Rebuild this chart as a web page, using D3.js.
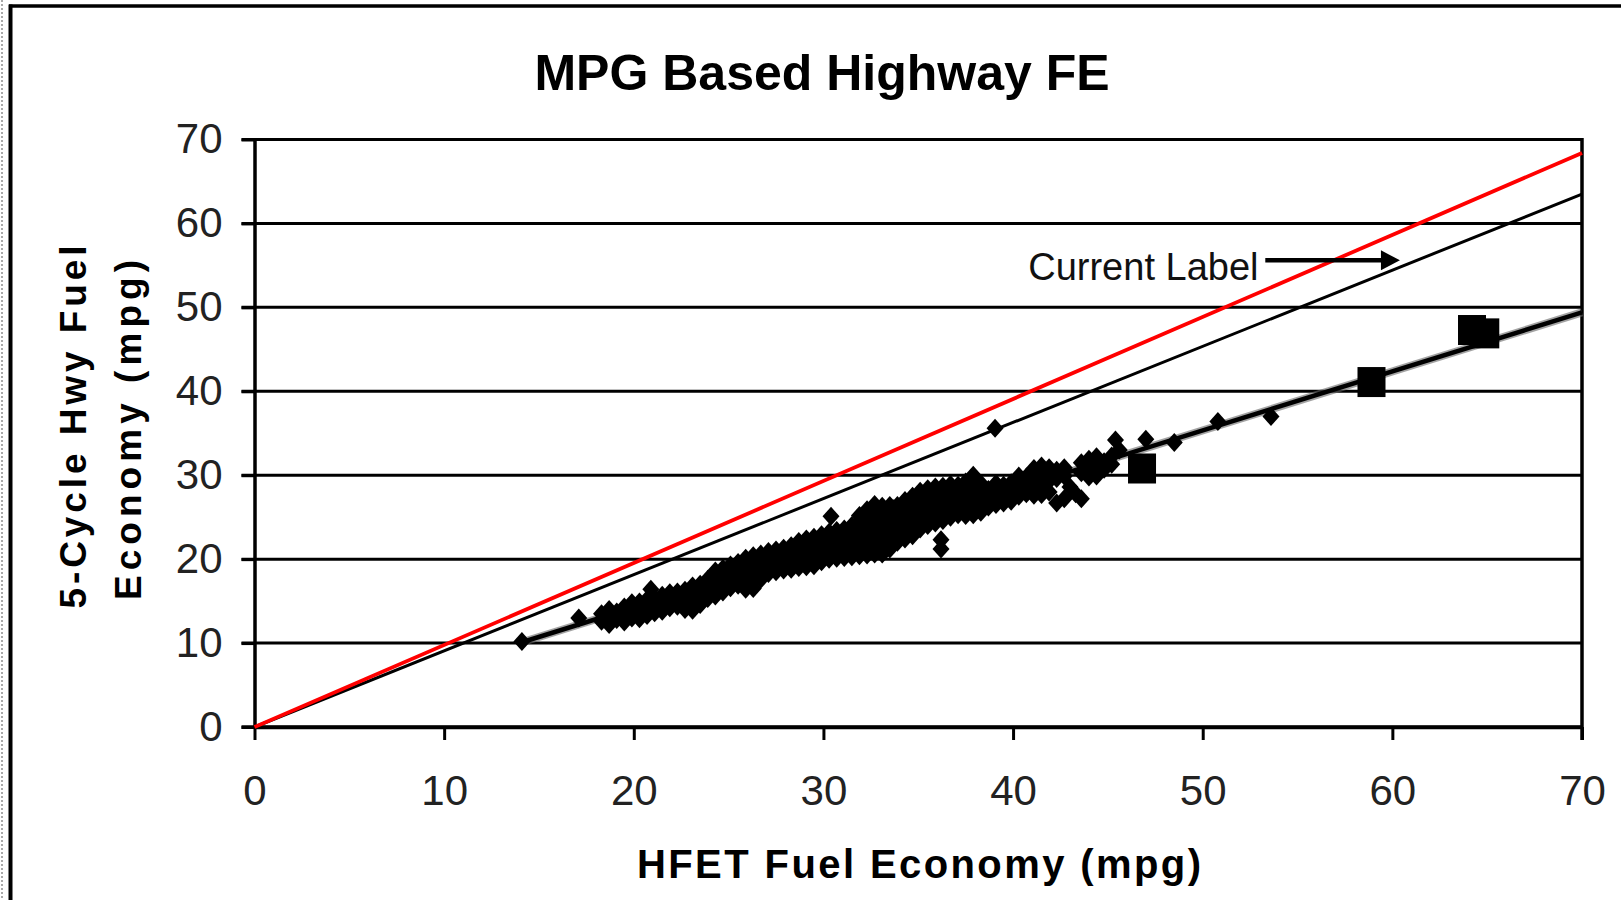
<!DOCTYPE html>
<html>
<head>
<meta charset="utf-8">
<script src="https://cdn.jsdelivr.net/npm/d3@7"></script>
<style>
  html, body { margin: 0; padding: 0; background: #fff; }
  svg { display: block; }
  text { font-family: "Liberation Sans", Arial, sans-serif; }
</style>
</head>
<body>
<svg id="chart" width="1621" height="900"></svg>
<script>
// ---------------- data ----------------
const chartTitle = "MPG Based Highway FE";
const xTitle = "HFET Fuel Economy (mpg)";
const yTitleLines = ["5-Cycle Hwy Fuel", "Economy (mpg)"];
const xTicks = [0, 10, 20, 30, 40, 50, 60, 70];
const yTicks = [0, 10, 20, 30, 40, 50, 60, 70];

// reference lines [x, y] endpoints
const redLine = [[0, 0], [70, 68.4]];
const currentLabelLine = [[0, 0], [70, 63.5]];
const trendLine = [[14.1, 10.1], [70, 49.4]];

// annotation
const annotationText = "Current Label";
const annotationPos = [40.8, 53.3];
const arrowFrom = [53.3, 55.6];
const arrowTo = [60.4, 55.6];

// large square markers [HFET, 5-cycle]
const squarePoints = [[46.8, 30.8], [58.9, 41.1], [64.2, 47.3], [64.9, 46.9]];

// diamond markers [HFET, 5-cycle]
const diamondPoints = [
  [14.1, 10.2], [17.1, 13.0],
  [18.3, 12.6], [18.3, 13.5],
  [18.7, 12.2], [18.7, 13.2], [18.7, 14.0],
  [19.1, 12.8], [19.1, 13.7],
  [19.5, 12.5], [19.5, 13.4], [19.5, 14.3],
  [19.9, 13.0], [19.9, 14.0], [19.9, 14.8],
  [20.3, 12.9], [20.3, 13.8], [20.3, 14.9],
  [20.7, 13.3], [20.7, 14.2], [20.7, 15.2], [20.9, 16.4],
  [21.1, 13.6], [21.1, 14.6], [21.1, 15.4],
  [21.5, 13.8], [21.5, 14.9], [21.5, 15.7],
  [21.9, 14.2], [21.9, 15.1], [21.9, 16.0],
  [22.3, 14.4], [22.3, 15.4], [22.3, 16.1],
  [22.7, 14.0], [22.7, 15.0], [22.7, 16.3],
  [23.1, 13.9], [23.1, 14.8], [23.1, 15.9], [23.1, 16.8],
  [23.5, 14.6], [23.5, 15.8], [23.5, 17.0],
  [23.9, 15.3], [23.9, 16.4], [23.9, 17.6],
  [24.3, 15.6], [24.3, 16.6], [24.3, 17.8], [24.3, 18.6],
  [24.7, 16.1], [24.7, 17.2], [24.7, 18.3], [24.7, 18.9],
  [25.1, 16.6], [25.1, 17.6], [25.1, 18.6], [25.1, 19.3],
  [25.5, 16.9], [25.5, 17.8], [25.5, 18.8], [25.5, 19.6],
  [25.9, 16.4], [25.9, 17.5], [25.9, 18.5], [25.9, 19.6], [25.9, 20.1],
  [26.3, 16.5], [26.3, 17.6], [26.3, 18.9], [26.3, 19.8], [26.3, 20.4],
  [26.7, 17.6], [26.7, 18.7], [26.7, 19.6], [26.7, 20.6],
  [27.1, 18.3], [27.1, 19.2], [27.1, 20.2], [27.1, 20.9],
  [27.5, 18.5], [27.5, 19.6], [27.5, 20.6], [27.5, 21.1],
  [27.9, 18.7], [27.9, 19.5], [27.9, 20.5], [27.9, 21.3],
  [28.3, 18.8], [28.3, 19.8], [28.3, 20.9], [28.3, 21.6],
  [28.7, 19.0], [28.7, 20.1], [28.7, 21.2], [28.7, 22.1],
  [29.1, 19.1], [29.1, 20.0], [29.1, 21.1], [29.1, 22.4],
  [29.5, 19.2], [29.5, 20.3], [29.5, 21.4], [29.5, 22.6],
  [29.9, 19.7], [29.9, 20.8], [29.9, 21.9], [29.9, 22.9],
  [30.3, 20.0], [30.3, 21.0], [30.3, 22.2], [30.3, 23.2], [30.4, 25.1],
  [30.5, 21.6], [30.9, 21.8], [30.9, 22.9],
  [30.7, 20.1], [30.7, 21.2], [30.7, 22.3], [30.7, 23.4],
  [31.1, 20.2], [31.1, 21.3], [31.1, 22.5], [31.1, 23.6],
  [31.3, 21.0], [31.3, 22.2], [31.3, 23.3],
  [31.5, 20.3], [31.5, 21.6], [31.5, 22.8], [31.5, 24.0],
  [31.7, 21.1], [31.7, 22.4], [31.7, 23.6],
  [31.9, 20.4], [31.9, 21.8], [31.9, 23.1], [31.9, 24.4], [31.9, 25.2],
  [32.1, 21.2], [32.1, 22.6], [32.1, 24.0],
  [32.3, 20.5], [32.3, 21.9], [32.3, 23.3], [32.3, 24.7], [32.3, 25.9],
  [32.5, 21.3], [32.5, 22.7], [32.5, 24.1], [32.5, 25.4],
  [32.7, 20.6], [32.7, 22.0], [32.7, 23.4], [32.7, 24.9], [32.7, 26.5],
  [32.9, 21.4], [32.9, 22.8], [32.9, 24.2], [32.9, 25.6],
  [33.1, 20.6], [33.1, 22.1], [33.1, 23.6], [33.1, 25.0], [33.1, 26.3],
  [33.3, 21.8], [33.3, 23.1], [33.3, 24.5], [33.3, 25.8],
  [33.5, 21.2], [33.5, 22.4], [33.5, 23.8], [33.5, 25.2], [33.5, 26.4],
  [33.7, 22.5], [33.7, 23.8], [33.7, 25.0], [33.7, 26.0],
  [33.9, 22.0], [33.9, 23.1], [33.9, 24.4], [33.9, 25.6], [33.9, 26.4],
  [34.1, 23.0], [34.1, 24.2], [34.1, 25.4],
  [34.3, 22.4], [34.3, 23.6], [34.3, 24.8], [34.3, 26.0], [34.3, 27.0],
  [34.5, 23.3], [34.5, 24.6], [34.5, 25.9],
  [34.7, 22.8], [34.7, 23.9], [34.7, 25.2], [34.7, 26.5], [34.7, 27.5],
  [34.9, 24.4], [34.9, 25.7], [34.9, 26.9],
  [35.1, 23.6], [35.1, 24.9], [35.1, 26.2], [35.1, 27.4], [35.1, 28.1],
  [35.3, 24.6], [35.3, 25.9], [35.3, 27.1],
  [35.5, 24.0], [35.5, 25.3], [35.5, 26.5], [35.5, 27.7], [35.5, 28.4],
  [35.7, 24.8], [35.7, 26.1], [35.7, 27.3],
  [35.9, 24.3], [35.9, 25.6], [35.9, 26.8], [35.9, 28.0], [35.9, 28.6],
  [36.2, 21.2], [36.2, 22.3],
  [36.3, 24.6], [36.3, 25.9], [36.3, 27.1], [36.3, 28.3], [36.3, 28.7],
  [36.5, 25.5], [36.5, 26.7], [36.5, 27.9],
  [36.7, 25.0], [36.7, 26.2], [36.7, 27.4], [36.7, 28.5], [36.7, 28.9],
  [36.9, 25.7], [36.9, 26.9], [36.9, 28.1],
  [37.1, 25.3], [37.1, 26.5], [37.1, 27.6], [37.1, 28.8],
  [37.3, 25.9], [37.3, 27.1], [37.3, 28.2],
  [37.5, 25.2], [37.5, 26.3], [37.5, 27.5], [37.5, 28.6], [37.5, 29.2],
  [37.9, 25.3], [37.9, 26.6], [37.9, 27.8], [37.9, 28.9], [37.9, 30.0],
  [38.3, 25.6], [38.3, 26.9], [38.3, 28.0], [38.3, 29.0],
  [38.7, 26.2], [38.7, 27.3], [38.7, 28.3],
  [39.1, 26.5], [39.1, 27.5], [39.1, 28.6], [39.1, 29.0],
  [39.5, 26.7], [39.5, 27.7], [39.5, 28.8],
  [39.9, 26.9], [39.9, 28.0], [39.9, 29.1],
  [40.3, 27.5], [40.3, 28.4], [40.3, 29.4], [40.3, 29.9],
  [40.7, 27.8], [40.7, 28.9], [40.7, 29.8],
  [41.1, 27.6], [41.1, 28.8], [41.1, 29.9], [41.1, 30.8],
  [41.5, 27.7], [41.5, 29.0], [41.5, 30.2], [41.5, 31.1],
  [41.9, 28.0], [41.9, 29.3], [41.9, 30.4], [41.9, 30.9],
  [42.3, 26.7], [42.3, 29.6], [42.3, 30.6],
  [42.7, 27.2], [42.7, 29.9], [42.7, 30.9],
  [43.0, 28.6], [43.3, 27.8],
  [43.6, 27.2], [43.6, 30.3], [43.6, 31.5],
  [44.0, 29.8], [44.0, 30.9], [44.0, 31.9],
  [44.4, 29.9], [44.4, 31.2], [44.4, 32.2],
  [44.8, 30.7], [44.8, 31.6],
  [45.2, 31.3], [45.2, 32.3], [45.6, 33.0],
  [39.05, 35.6], [45.4, 34.2], [47.0, 34.3], [48.5, 33.9], [50.8, 36.4], [53.6, 37.0]
];

// ---------------- drawing ----------------
const svg = d3.select("#chart");
const W = 1621, H = 900;
const plot = { left: 254.5, right: 1582, top: 139.5, bottom: 727 };

const x = d3.scaleLinear().domain([0, 70]).range([plot.left, plot.right]);
const y = d3.scaleLinear().domain([0, 70]).range([plot.bottom, plot.top]);

svg.append("rect").attr("width", W).attr("height", H).attr("fill", "#fff");

// outer frame (top + left) and dotted edge
svg.append("line").attr("x1", 2).attr("x2", 2).attr("y1", 0).attr("y2", H)
  .attr("stroke", "#aaa").attr("stroke-width", 2).attr("stroke-dasharray", "2,2");
svg.append("line").attr("x1", 9).attr("x2", W).attr("y1", 6).attr("y2", 6)
  .attr("stroke", "#000").attr("stroke-width", 3.5);
svg.append("line").attr("x1", 10.5).attr("x2", 10.5).attr("y1", 4.5).attr("y2", H)
  .attr("stroke", "#000").attr("stroke-width", 4);

// title
svg.append("text").attr("x", 822).attr("y", 90)
  .attr("text-anchor", "middle").attr("font-size", 50).attr("font-weight", "bold")
  .attr("fill", "#000").text(chartTitle);

// gridlines
const tickLen = 13;
svg.append("g").selectAll("line").data(yTicks.filter(d => d !== 0)).join("line")
  .attr("x1", plot.left - tickLen).attr("x2", plot.right)
  .attr("y1", d => y(d)).attr("y2", d => y(d))
  .attr("stroke", "#000").attr("stroke-width", 3);

// y axis
const yAxis = svg.append("g").attr("transform", `translate(${plot.left},0)`)
  .call(d3.axisLeft(y).tickValues(yTicks).tickSizeInner(tickLen).tickSizeOuter(0).tickPadding(19));
yAxis.select(".domain").attr("stroke", "#000").attr("stroke-width", 3.5);
yAxis.selectAll(".tick line").attr("stroke", "#000").attr("stroke-width", 3);
yAxis.selectAll(".tick text").attr("font-size", 42).attr("fill", "#222")
  .attr("font-family", "Liberation Sans, Arial, sans-serif");

// x axis
const xAxis = svg.append("g").attr("transform", `translate(0,${plot.bottom})`)
  .call(d3.axisBottom(x).tickValues(xTicks).tickSizeInner(tickLen).tickSizeOuter(0).tickPadding(35));
xAxis.select(".domain").attr("stroke", "#000").attr("stroke-width", 3.5);
xAxis.selectAll(".tick line").attr("stroke", "#000").attr("stroke-width", 3);
xAxis.selectAll(".tick text").attr("font-size", 42).attr("fill", "#222")
  .attr("font-family", "Liberation Sans, Arial, sans-serif");
svg.append("line").attr("x1", plot.left - tickLen).attr("x2", plot.right)
  .attr("y1", y(0)).attr("y2", y(0)).attr("stroke", "#000").attr("stroke-width", 3.5);

// right border of plot
svg.append("line").attr("x1", x(70)).attr("x2", x(70))
  .attr("y1", y(70) - 1.5).attr("y2", y(0) + tickLen)
  .attr("stroke", "#000").attr("stroke-width", 3.5);

// axis titles
svg.append("text").attr("x", 919).attr("y", 878)
  .attr("text-anchor", "middle").attr("font-size", 40).attr("font-weight", "bold")
  .attr("textLength", 564).attr("lengthAdjust", "spacing")
  .attr("fill", "#000").text(xTitle);

const yTitlePos = [{ bx: 86, cy: 427, len: 363 }, { bx: 141, cy: 430, len: 340 }];
yTitleLines.forEach((t, i) => {
  const p = yTitlePos[i];
  svg.append("text")
    .attr("transform", `translate(${p.bx},${p.cy}) rotate(-90)`)
    .attr("text-anchor", "middle").attr("font-size", 37).attr("font-weight", "bold")
    .attr("textLength", p.len).attr("lengthAdjust", "spacing")
    .attr("fill", "#000").text(t);
});

// lines
const lineGen = d3.line().x(d => x(d[0])).y(d => y(d[1]));
svg.append("path").datum(currentLabelLine).attr("d", lineGen)
  .attr("fill", "none").attr("stroke", "#000").attr("stroke-width", 3);
svg.append("path").datum(trendLine).attr("d", lineGen)
  .attr("fill", "none").attr("stroke", "#666").attr("stroke-opacity", 0.6).attr("stroke-width", 8);
svg.append("path").datum(trendLine).attr("d", lineGen)
  .attr("fill", "none").attr("stroke", "#000").attr("stroke-width", 4.5);

// diamonds
const dw = 8.5, dh = 9.5;
svg.append("g").selectAll("path").data(diamondPoints).join("path")
  .attr("d", d => {
    const cx = x(d[0]), cy = y(d[1]);
    return `M${cx},${cy - dh}L${cx + dw},${cy}L${cx},${cy + dh}L${cx - dw},${cy}Z`;
  })
  .attr("fill", "#000");

// squares
const sw = 28, sh = 30;
svg.append("g").selectAll("rect").data(squarePoints).join("rect")
  .attr("x", d => x(d[0]) - sw / 2).attr("y", d => y(d[1]) - sh / 2)
  .attr("width", sw).attr("height", sh).attr("fill", "#000");

// red line on top
svg.append("path").datum(redLine).attr("d", lineGen)
  .attr("fill", "none").attr("stroke", "#ff0000").attr("stroke-width", 3.8);

// annotation
svg.append("text").attr("x", x(annotationPos[0])).attr("y", y(annotationPos[1]))
  .attr("font-size", 38).attr("fill", "#111").text(annotationText);
const ax1 = x(arrowFrom[0]), ax2 = x(arrowTo[0]), ay = y(arrowTo[1]);
svg.append("line").attr("x1", ax1).attr("x2", ax2 - 14).attr("y1", ay).attr("y2", ay)
  .attr("stroke", "#000").attr("stroke-width", 4.5);
svg.append("path")
  .attr("d", `M${ax2},${ay}L${ax2 - 19},${ay - 10}L${ax2 - 19},${ay + 10}Z`)
  .attr("fill", "#000");
</script>
</body>
</html>
